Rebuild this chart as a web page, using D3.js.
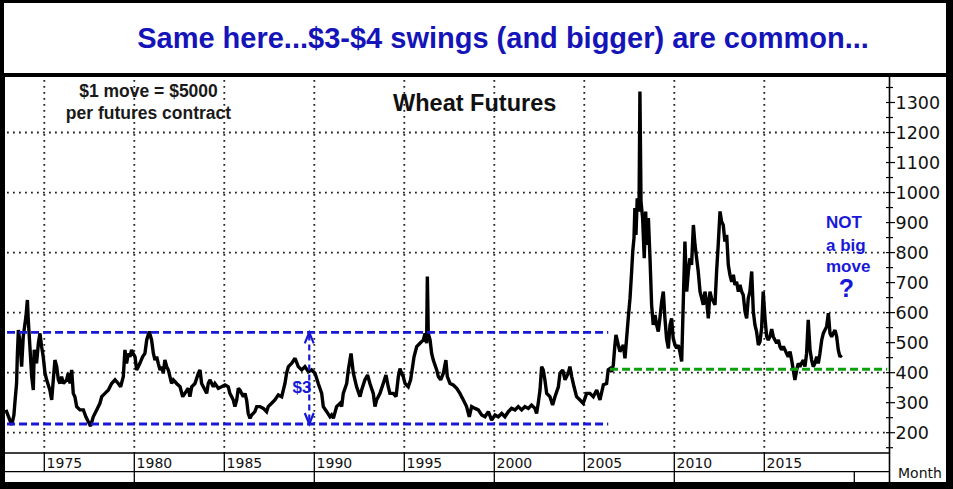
<!DOCTYPE html>
<html><head><meta charset="utf-8">
<script src="https://cdn.jsdelivr.net/npm/d3@7"></script>
<style>html,body{margin:0;padding:0;background:#fff;overflow:hidden}</style>
</head><body>
<svg id="c" width="953" height="489"></svg>
<script>
// ---------- data ----------
const titleText = "Same here...$3-$4 swings (and bigger) are common...";
const chartLabel = "Wheat Futures";
const noteLines = ["$1 move = $5000", "per futures contract"];
const calloutLines = ["NOT", "a big", "move"];
const yTickValues = [200,300,400,500,600,700,800,900,1000,1100,1200,1300];
const yGridValues = [200,400,600,800,1000,1200];
const xTickYears = [1975,1980,1985,1990,1995,2000,2005,2010,2015];
const decadeYears = [1980,1990,2000,2010,2020];
const rangeLevels = [229, 534];     // blue dashed range
const rangeYears = [1972.93, 2006.33];
const supportLevel = 411;           // green dashed
const supportYears = [2006.43, 2021.83];
const arrowYear = 1989.72;
const axisUnit = "Month";

// [year, price in cents/bushel]
const wheat = [
[1972.87,276],[1973.00,255],[1973.19,226],[1973.31,258],[1973.37,303],[1973.46,364],[1973.50,453],[1973.56,542],[1973.65,500],[1973.74,420],[1973.83,520],[1973.98,587],[1974.06,642],[1974.11,575],[1974.20,487],[1974.30,387],[1974.39,342],[1974.44,476],[1974.57,431],[1974.67,498],[1974.76,531],[1974.85,487],[1974.94,453],[1975.04,398],[1975.13,376],[1975.31,342],[1975.41,309],[1975.50,376],[1975.59,442],[1975.69,420],[1975.78,376],[1975.87,364],[1975.96,387],[1976.06,364],[1976.24,376],[1976.33,398],[1976.43,364],[1976.52,409],[1976.61,331],[1976.70,320],[1976.80,287],[1976.98,276],[1977.17,276],[1977.31,253],[1977.44,237],[1977.57,222],[1977.72,253],[1977.91,276],[1978.09,298],[1978.19,320],[1978.37,331],[1978.56,342],[1978.74,364],[1978.93,376],[1979.11,364],[1979.24,353],[1979.39,387],[1979.48,476],[1979.57,431],[1979.67,464],[1979.76,453],[1979.85,476],[1979.94,464],[1980.04,453],[1980.13,409],[1980.22,420],[1980.31,431],[1980.46,453],[1980.59,464],[1980.69,509],[1980.83,537],[1980.96,509],[1981.06,464],[1981.15,442],[1981.24,453],[1981.33,431],[1981.43,409],[1981.52,420],[1981.61,398],[1981.70,442],[1981.80,420],[1981.89,409],[1981.98,387],[1982.07,364],[1982.17,376],[1982.35,364],[1982.54,353],[1982.69,320],[1982.81,331],[1983.00,348],
[1983.09,320],[1983.19,353],[1983.37,364],[1983.56,398],[1983.65,409],[1983.74,364],[1983.93,342],[1984.02,331],[1984.11,364],[1984.20,376],[1984.39,353],[1984.48,364],[1984.67,348],[1984.85,353],[1985.04,359],[1985.22,353],[1985.31,331],[1985.41,320],[1985.50,309],[1985.59,287],[1985.69,309],[1985.78,348],[1985.87,342],[1985.96,331],[1986.06,320],[1986.15,331],[1986.24,309],[1986.33,264],[1986.43,248],[1986.52,259],[1986.70,270],[1986.80,287],[1986.98,287],[1987.17,281],[1987.35,270],[1987.44,287],[1987.63,298],[1987.81,309],[1988.00,326],[1988.19,320],[1988.37,364],[1988.46,398],[1988.56,420],[1988.74,431],[1988.93,448],[1989.11,420],[1989.30,409],[1989.48,420],[1989.67,403],[1989.85,409],[1990.04,398],[1990.22,364],[1990.41,331],[1990.50,287],[1990.69,270],[1990.87,253],[1990.96,259],[1991.06,248],[1991.24,287],[1991.43,298],[1991.52,287],[1991.61,331],[1991.80,364],[1991.89,409],[1992.04,464],[1992.17,398],[1992.35,353],[1992.54,320],[1992.63,342],[1992.81,376],[1992.96,392],[1993.09,364],[1993.28,330],
[1993.37,287],[1993.46,309],[1993.65,331],[1993.83,364],[1993.98,392],[1994.11,353],[1994.20,331],[1994.39,331],[1994.54,320],[1994.67,387],[1994.76,414],[1994.85,398],[1994.94,387],[1995.04,364],[1995.22,353],[1995.35,376],[1995.46,420],[1995.54,453],[1995.69,487],[1995.87,498],[1996.06,509],[1996.15,531],[1996.24,498],[1996.28,720],[1996.31,614],[1996.33,531],[1996.43,509],[1996.52,464],[1996.61,442],[1996.80,409],[1996.89,387],[1997.02,376],[1997.17,398],[1997.31,442],[1997.39,387],[1997.54,364],[1997.72,359],[1997.91,348],[1998.09,331],[1998.28,309],[1998.46,287],[1998.61,253],[1998.74,287],[1998.93,281],[1999.11,276],[1999.30,259],[1999.48,253],[1999.67,270],[1999.85,242],[2000.04,259],[2000.22,253],[2000.41,264],[2000.59,253],[2000.78,270],[2000.96,281],[2001.15,276],[2001.33,287],[2001.52,276],[2001.70,287],[2001.89,281],[2002.07,292],[2002.26,281],[2002.35,264],[2002.44,298],[2002.54,342],[2002.63,420],[2002.72,409],[2002.81,376],[2002.91,331],[2003.09,320],[2003.24,292],[2003.37,320],[2003.56,353],[2003.65,398],[2003.80,409],[2003.93,376],[2004.11,398],[2004.20,420],[2004.30,387],[2004.43,353],[2004.57,320],[2004.76,309],[2004.94,298],[2005.13,331],[2005.31,331],[2005.50,320],[2005.69,342],[2005.87,309],[2006.06,360],[2006.24,364],
[2006.33,410],[2006.43,414],[2006.52,403],[2006.61,425],[2006.70,492],[2006.76,526],[2006.89,492],[2006.98,470],[2007.07,481],[2007.17,492],[2007.26,448],[2007.35,514],[2007.44,581],[2007.54,648],[2007.63,737],[2007.69,803],[2007.76,848],[2007.81,948],[2007.87,859],[2007.94,981],[2008.04,937],[2008.09,1337],[2008.15,970],[2008.24,915],[2008.33,781],[2008.41,937],[2008.46,826],[2008.56,915],[2008.65,781],[2008.74,626],[2008.83,559],[2008.93,592],[2009.02,559],[2009.11,537],[2009.20,581],[2009.30,637],[2009.39,670],[2009.48,581],[2009.57,514],[2009.67,481],[2009.76,559],[2009.85,581],[2009.94,514],[2010.04,492],[2010.13,481],[2010.22,492],[2010.31,470],[2010.41,437],[2010.50,637],[2010.59,837],[2010.69,670],[2010.78,737],[2010.87,781],[2010.96,759],[2011.06,892],[2011.15,826],[2011.24,781],[2011.33,737],[2011.43,670],[2011.52,648],[2011.61,626],[2011.70,670],[2011.80,637],[2011.89,581],[2011.98,670],[2012.07,648],[2012.17,637],[2012.26,626],[2012.35,737],[2012.44,826],[2012.54,937],[2012.63,903],[2012.72,892],[2012.81,837],[2012.91,859],[2013.00,759],[2013.09,726],[2013.19,703],[2013.28,726],[2013.37,692],[2013.46,703],[2013.56,670],[2013.65,692],[2013.74,670],[2013.83,659],[2013.93,603],[2014.02,581],[2014.11,648],[2014.20,670],[2014.30,737],[2014.39,603],[2014.48,559],[2014.57,537],[2014.67,492],[2014.76,503],[2014.85,548],[2014.94,670],[2015.04,581],[2015.13,520],[2015.22,509],[2015.31,520],[2015.41,545],[2015.50,520],[2015.59,509],[2015.69,498],[2015.78,509],[2015.87,487],[2015.96,476],[2016.06,487],[2016.15,476],[2016.24,464],[2016.33,453],[2016.43,470],[2016.52,442],[2016.61,409],[2016.70,376],[2016.80,409],[2016.89,431],[2016.98,420],[2017.07,431],[2017.17,442],[2017.26,420],[2017.35,464],[2017.44,576],[2017.54,476],[2017.63,442],[2017.72,420],[2017.81,431],[2017.91,453],[2018.00,431],[2018.09,464],[2018.19,509],[2018.28,531],[2018.37,542],[2018.46,553],[2018.56,598],[2018.65,531],[2018.74,520],[2018.83,531],[2018.93,542],[2019.02,520],[2019.11,476],[2019.20,453],[2019.30,459]
];

// ---------- layout ----------
const W = 953, H = 489;
const plot = {left: 5, right: 889, top: 77, bottom: 453};
const rowLine = 471.7, panelBottom = 482;
const BLUE = "#1818d8", TITLE_BLUE = "#1414b8", GREEN = "#0fa00f";

const x = d3.scaleLinear().domain([1975, 2015]).range([44.3, 764.3]);
const y = d3.scaleLinear().domain([200, 1300]).range([432.7, 102.5]);

const svg = d3.select("#c");
svg.append("rect").attr("width", W).attr("height", H).attr("fill", "#000");
svg.append("rect").attr("x", 4).attr("y", 3).attr("width", 942).attr("height", 70).attr("fill", "#fff");
svg.append("rect").attr("x", 5).attr("y", 77).attr("width", 941).attr("height", panelBottom - 77).attr("fill", "#fff");

// title
svg.append("text").attr("x", 503).attr("y", 48).attr("text-anchor", "middle")
  .attr("font-family", "'Liberation Sans', Arial, sans-serif").attr("font-weight", "bold")
  .attr("font-size", 29).attr("fill", TITLE_BLUE).text(titleText);

// grid
const grid = svg.append("g").attr("stroke", "#222").attr("stroke-width", 1.8).attr("stroke-dasharray", "1.8,4.2");
grid.selectAll("line.h").data(yGridValues).join("line")
  .attr("x1", plot.left + 2).attr("x2", plot.right - 2)
  .attr("y1", d => y(d)).attr("y2", d => y(d));
grid.selectAll("line.v").data(xTickYears).join("line").attr("class", "v")
  .attr("x1", d => x(d)).attr("x2", d => x(d))
  .attr("y1", plot.top + 3).attr("y2", plot.bottom);

// axes frame
const frame = svg.append("g").attr("stroke", "#000").attr("fill", "none");
frame.append("line").attr("x1", plot.right + 0.5).attr("x2", plot.right + 0.5)
  .attr("y1", plot.top).attr("y2", panelBottom).attr("stroke-width", 1.6);
frame.append("line").attr("x1", plot.left).attr("x2", plot.right + 0.5)
  .attr("y1", plot.bottom).attr("y2", plot.bottom).attr("stroke-width", 1.3);
frame.append("line").attr("x1", plot.left).attr("x2", plot.right + 0.5)
  .attr("y1", rowLine).attr("y2", rowLine).attr("stroke-width", 1.3);
frame.selectAll("line.yt").data(xTickYears).join("line").attr("class", "yt")
  .attr("x1", d => x(d)).attr("x2", d => x(d)).attr("y1", plot.bottom).attr("y2", rowLine).attr("stroke-width", 1.3);
frame.selectAll("line.dt").data(decadeYears).join("line").attr("class", "dt")
  .attr("x1", d => x(d)).attr("x2", d => x(d)).attr("y1", rowLine).attr("y2", panelBottom).attr("stroke-width", 1.3);

// y axis ticks (right)
const minor = d3.range(150, 1400, 50);
frame.selectAll("line.mt").data(minor).join("line").attr("class", "mt")
  .attr("x1", plot.right - 3).attr("x2", d => d % 100 === 0 ? plot.right + 6 : plot.right + 4)
  .attr("y1", d => y(d)).attr("y2", d => y(d)).attr("stroke-width", 1.2);
svg.append("g").selectAll("text").data(yTickValues).join("text")
  .attr("x", plot.right + 6.5).attr("y", d => y(d)).attr("dy", "0.36em")
  .attr("font-family", "'DejaVu Sans', sans-serif").attr("font-size", 17.5).attr("fill", "#111")
  .text(d => d);

// x labels
svg.append("g").selectAll("text").data(xTickYears).join("text")
  .attr("x", d => x(d) + 2.3).attr("y", 468.3)
  .attr("font-family", "'DejaVu Sans', sans-serif").attr("font-size", 14).attr("fill", "#111")
  .text(d => d);
svg.append("text").attr("x", 898).attr("y", 478).attr("font-family", "'DejaVu Sans', sans-serif")
  .attr("font-size", 14).attr("fill", "#111").text(axisUnit);

// price line
const line = d3.line().x(d => x(d[0])).y(d => y(d[1]));
svg.append("path").datum(wheat).attr("d", line).attr("fill", "none")
  .attr("stroke", "#000").attr("stroke-width", 3.4).attr("stroke-linejoin", "miter").attr("stroke-miterlimit", 2);

// blue range lines
svg.append("g").selectAll("line").data(rangeLevels).join("line")
  .attr("x1", x(rangeYears[0])).attr("x2", x(rangeYears[1]))
  .attr("y1", d => y(d)).attr("y2", d => y(d))
  .attr("stroke", BLUE).attr("stroke-width", 2.8).attr("stroke-dasharray", "8,4");
// green support
svg.append("line").attr("x1", x(supportYears[0])).attr("x2", x(supportYears[1]))
  .attr("y1", y(supportLevel)).attr("y2", y(supportLevel))
  .attr("stroke", GREEN).attr("stroke-width", 3).attr("stroke-dasharray", "8,4");

// $3 arrow
const ax = x(arrowYear), yTop = y(rangeLevels[1]), yBot = y(rangeLevels[0]);
svg.append("line").attr("x1", ax).attr("x2", ax).attr("y1", yTop + 2).attr("y2", yBot - 2)
  .attr("stroke", BLUE).attr("stroke-width", 2.2).attr("stroke-dasharray", "6,4");
svg.append("path").attr("d", `M${ax-4.5},${yTop+11}L${ax},${yTop}L${ax+4.5},${yTop+11}`)
  .attr("fill", "none").attr("stroke", BLUE).attr("stroke-width", 2.2);
svg.append("path").attr("d", `M${ax-4.5},${yBot-11}L${ax},${yBot}L${ax+4.5},${yBot-11}`)
  .attr("fill", "none").attr("stroke", BLUE).attr("stroke-width", 2.2);
svg.append("text").attr("x", 292.5).attr("y", 393).attr("font-family", "'Liberation Sans', Arial, sans-serif")
  .attr("font-weight", "bold").attr("font-size", 17).attr("fill", BLUE).text("$3");

// notes
const bold = "'Liberation Sans', Arial, sans-serif";
svg.append("g").selectAll("text").data(noteLines).join("text")
  .attr("x", 148.5).attr("y", (d, i) => 97 + i * 22).attr("text-anchor", "middle")
  .attr("font-family", bold).attr("font-weight", "bold").attr("font-size", 17.5).attr("fill", "#1a1a1a")
  .text(d => d);
svg.append("text").attr("x", 474.7).attr("y", 110.7).attr("text-anchor", "middle")
  .attr("font-family", bold).attr("font-weight", "bold").attr("font-size", 23.5).attr("fill", "#111")
  .text(chartLabel);
svg.append("g").selectAll("text").data(calloutLines).join("text")
  .attr("x", 826).attr("y", (d, i) => [228.3, 250.7, 271.7][i])
  .attr("font-family", bold).attr("font-weight", "bold").attr("font-size", 17).attr("fill", BLUE)
  .text(d => d);
svg.append("text").attr("x", 846.5).attr("y", 296.7).attr("text-anchor", "middle")
  .attr("font-family", bold).attr("font-weight", "bold").attr("font-size", 25).attr("fill", BLUE).text("?");
</script>
</body></html>
